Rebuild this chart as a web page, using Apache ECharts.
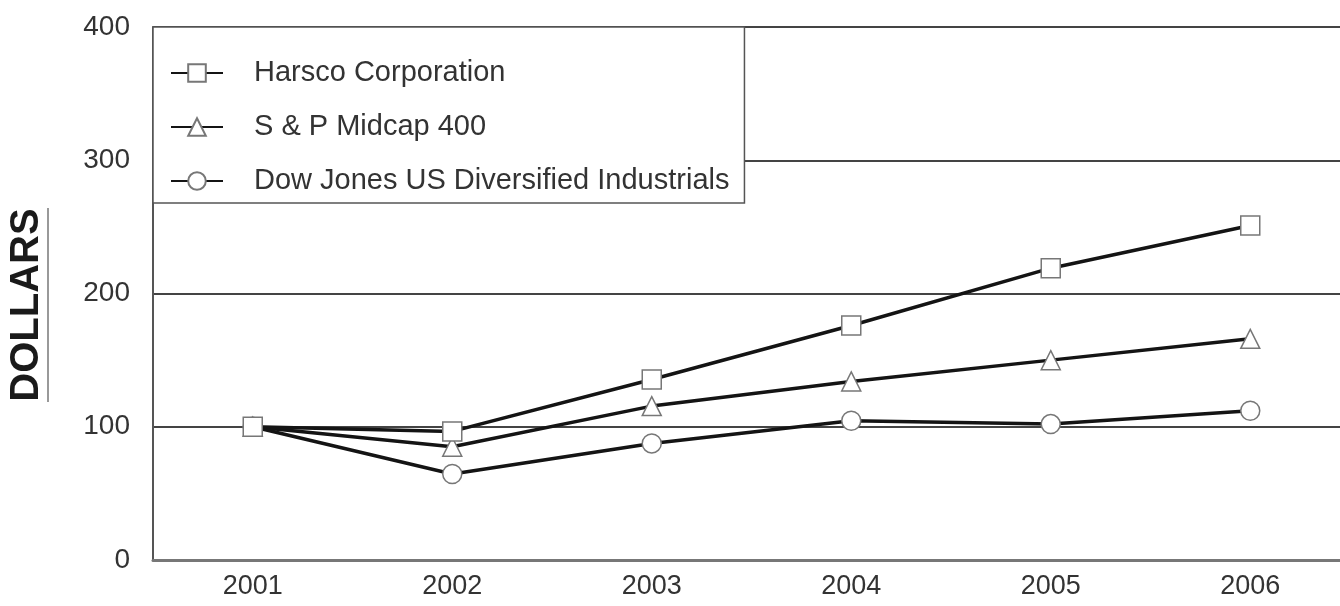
<!DOCTYPE html>
<html>
<head>
<meta charset="utf-8">
<script src="https://cdn.jsdelivr.net/npm/echarts@6/dist/echarts.min.js"></script>
<style>
  html, body { margin: 0; padding: 0; background: #fff; overflow: hidden; }
  #chart { width: 1350px; height: 606px; }
</style>
</head>
<body>
<div id="chart"></div>
<script>
// data
const years = ['2001', '2002', '2003', '2004', '2005', '2006'];
const harsco = [100, 96.5, 135.5, 176, 219, 251];
const spMidcap = [100, 85, 115.5, 134, 150, 166];
const dowJones = [100, 64.5, 87.5, 104.5, 102, 112];
const yTicks = [0, 100, 200, 300, 400];

const FONT = "'Liberation Sans', Arial, sans-serif";

function lineSeries(name, data, symbol) {
    return {
        name: name,
        type: 'line',
        data: data,
        symbol: symbol,
        symbolSize: 19,
        lineStyle: { color: '#141414', width: 3.5 },
        itemStyle: { color: '#fff', borderColor: '#777', borderWidth: 1.5 },
        emphasis: { disabled: true },
        animation: false
    };
}

// container is a bit wider than the window so the last category column runs off the edge like the original
const chart = echarts.init(document.getElementById('chart'));
chart.setOption({
    backgroundColor: '#fff',
    animation: false,
    grid: { left: 153, top: 27, width: 1197, height: 533 },
    legend: {
        orient: 'vertical',
        left: 153,
        top: 27,
        padding: [31, 15, 7, 17],
        itemGap: 24,
        itemWidth: 52,
        itemHeight: 22,
        backgroundColor: '#fff',
        borderColor: '#555',
        borderWidth: 1.5,
        textStyle: {
            fontFamily: FONT,
            fontSize: 29,
            lineHeight: 30,
            color: '#333',
            padding: [0, 0, 0, 26]
        },
        data: ['Harsco Corporation', 'S & P Midcap 400', 'Dow Jones US Diversified Industrials']
    },
    xAxis: {
        type: 'category',
        data: years,
        boundaryGap: true,
        axisLine: { lineStyle: { color: '#777', width: 3 } },
        axisTick: { alignWithLabel: true, length: 12, lineStyle: { color: '#555', width: 2 } },
        axisLabel: { fontFamily: FONT, fontSize: 27, color: '#333', margin: 13 },
        splitLine: { show: false }
    },
    yAxis: {
        type: 'value',
        min: yTicks[0],
        max: yTicks[yTicks.length - 1],
        interval: 100,
        axisLine: { show: true, lineStyle: { color: '#555', width: 2 } },
        axisTick: { show: false },
        axisLabel: { fontFamily: FONT, fontSize: 28, color: '#333', margin: 23 },
        splitLine: { lineStyle: { color: '#444', width: 2 } }
    },
    graphic: [
        {
            type: 'text',
            x: 27,
            y: 305,
            rotation: Math.PI / 2,
            style: {
                text: 'DOLLARS',
                font: 'bold 40px ' + FONT,
                fill: '#1a1a1a',
                textAlign: 'center',
                textVerticalAlign: 'middle'
            }
        },
        {
            type: 'line',
            shape: { x1: 48, y1: 208, x2: 48, y2: 402 },
            style: { stroke: '#999', lineWidth: 2 }
        }
    ],
    series: [
        lineSeries('Dow Jones US Diversified Industrials', dowJones, 'circle'),
        lineSeries('S & P Midcap 400', spMidcap, 'triangle'),
        lineSeries('Harsco Corporation', harsco, 'rect')
    ]
});
</script>
</body>
</html>
